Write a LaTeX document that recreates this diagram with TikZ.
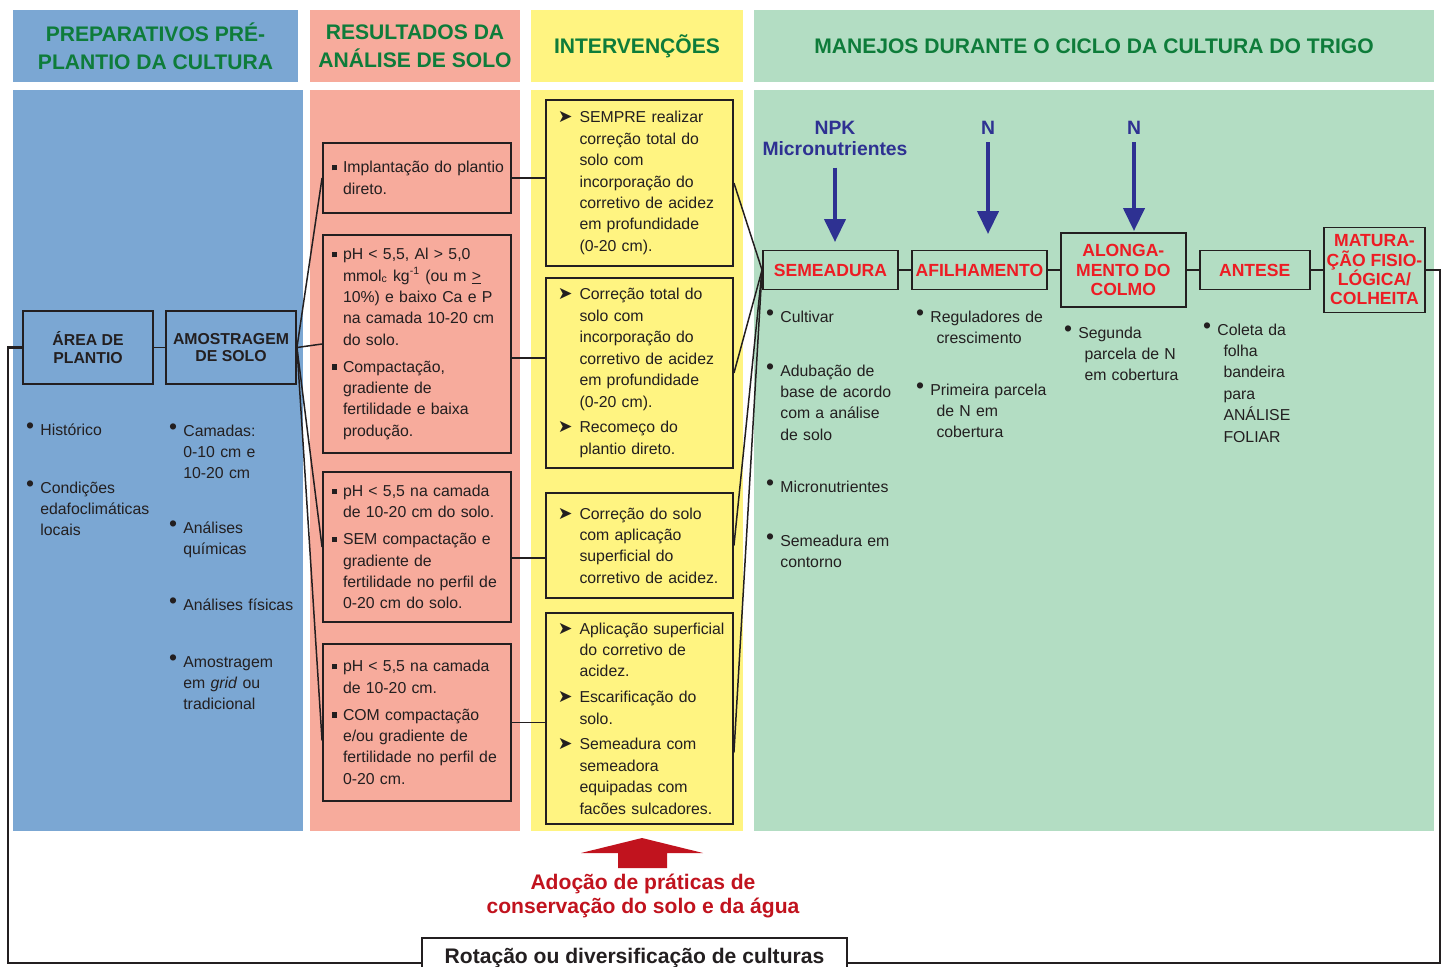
\documentclass[tikz,border=0pt]{standalone}
\usepackage{fontspec}
\setmainfont{Liberation Sans}
\newfontfamily\dejavu{DejaVu Sans}
\usetikzlibrary{arrows.meta,positioning}
\definecolor{ColBlue}{HTML}{7BA7D3}
\definecolor{ColPink}{HTML}{F7AB9C}
\definecolor{ColYellow}{HTML}{FFF481}
\definecolor{ColGreen}{HTML}{B3DDC3}
\definecolor{HeadGreen}{HTML}{0E7C3A}
\definecolor{StageRed}{HTML}{ED1C24}
\definecolor{NutriBlue}{HTML}{2E3192}
\definecolor{ArrowRed}{HTML}{C1131E}
\definecolor{InkGray}{HTML}{231F20}

\newcommand{\bul}{\makebox[0pt][r]{\raisebox{0.15ex}{\fontsize{13}{13}\selectfont\textbullet}\hspace{3.5pt}}}
\newcommand{\sqb}{\makebox[0pt][r]{\raisebox{0.3ex}{\rule{3pt}{3pt}}\hspace{3.4pt}}}
\newcommand{\arb}{\makebox[0pt][r]{{\dejavu\fontsize{10}{10}\selectfont ➤}\hspace{4pt}}}
\newcommand{\ind}{\hspace*{3.5pt}}
\newcommand{\bodyfont}{\fontsize{9}{12.2}\selectfont}

\begin{document}
\begin{tikzpicture}[
    x=0.02cm, y=-0.02cm,
    colhead/.style={minimum height=1.44cm, align=center, text=HeadGreen, font=\fontsize{12}{16}\selectfont\bfseries},
    lbox/.style={draw=InkGray, line width=1.1pt, minimum width=2.6cm, minimum height=1.46cm, align=center, text=InkGray, font=\fontsize{9}{10}\selectfont\bfseries},
    pbox/.style={draw=InkGray, line width=1.1pt, text width=3.66cm, inner xsep=0.05cm, align=left, text=InkGray, font=\bodyfont, execute at begin node={\leftskip=0.35cm}},
    ybox/.style={draw=InkGray, line width=1.1pt, text width=3.64cm, inner xsep=0.05cm, align=left, text=InkGray, font=\bodyfont, execute at begin node={\leftskip=0.62cm}},
    stage/.style={draw=InkGray, line width=1.1pt, inner xsep=0.06cm, minimum height=0.78cm, align=center, text=StageRed, font=\fontsize{10}{11}\selectfont\bfseries},
    li/.style={anchor=base west, inner sep=0pt, text width=3cm, align=left, text=InkGray, font=\bodyfont},
    joinline/.style={draw=InkGray, line width=0.85pt},
    cycleline/.style={draw=InkGray, line width=1.4pt},
    nutri/.style={text=NutriBlue, inner sep=0pt, align=center, font=\fontsize{11}{12}\selectfont\bfseries},
    nutriarrow/.style={-{Triangle[length=0.46cm, width=0.42cm]}, line width=2.3pt, color=NutriBlue}
  ]
  \useasboundingbox (0,0) rectangle (1445,967);

  % column backgrounds
  \fill[ColBlue] (13,90) rectangle (303,831);
  \fill[ColPink] (310,90) rectangle (520,831);
  \fill[ColYellow] (531,90) rectangle (743,831);
  \fill[ColGreen] (754,90) rectangle (1434,831);

  \node[colhead, fill=ColBlue, minimum width=5.7cm] (hprep) at (155.5,46) {PREPARATIVOS PRÉ-\\PLANTIO DA CULTURA};
  \node[colhead, fill=ColPink, minimum width=4.2cm] (hres) at (415,46) {RESULTADOS DA\\ANÁLISE DE SOLO};
  \node[colhead, fill=ColYellow, minimum width=4.24cm] (hint) at (637,46) {INTERVENÇÕES};
  \node[colhead, fill=ColGreen, minimum width=13.6cm] (hman) at (1094,46) {MANEJOS DURANTE O CICLO DA CULTURA DO TRIGO};

  % preparativos
  \node[lbox] (area) at (88,347.5) {ÁREA DE\\PLANTIO};
  \node[lbox] (amost) at (231,347.5) {AMOSTRAGEM\\DE SOLO};
  \draw[joinline] (area) -- (amost);

  \node[li] (hist) at (40,435) {\bul Histórico};
  \node[li] (cond) at (40,493) {\bul Condições\\edafoclimáticas\\locais};
  \node[li] (cam) at (183,436) {\bul Camadas:\\0-10 cm e\\10-20 cm};
  \node[li] (anq) at (183,533) {\bul Análises\\químicas};
  \node[li] (anf) at (183,610) {\bul Análises físicas};
  \node[li] (amg) at (183,667) {\bul Amostragem\\em \textit{grid} ou\\tradicional};

  % resultados da analise
  \node[pbox, minimum height=1.4cm] (p1) at (417,178) {\sqb Implantação do plantio\\direto.\\[4pt]};
  \node[pbox, minimum height=4.36cm] (p2) at (417,344) {\sqb pH < 5,5, Al > 5,0\\mmol\textsubscript{c} kg\textsuperscript{-1} (ou m \underline{>}\\10\%) e baixo Ca e P\\na camada 10-20 cm\\do solo.\\[3pt]\sqb Compactação,\\gradiente de\\fertilidade e baixa\\produção.};
  \node[pbox, minimum height=3.0cm] (p3) at (417,547) {\sqb pH < 5,5 na camada\\de 10-20 cm do solo.\\[3pt]\sqb SEM compactação e\\gradiente de\\fertilidade no perfil de\\0-20 cm do solo.};
  \node[pbox, minimum height=3.14cm] (p4) at (417,722.5) {\sqb pH < 5,5 na camada\\de 10-20 cm.\\[3pt]\sqb COM compactação\\e/ou gradiente de\\fertilidade no perfil de\\0-20 cm.};

  \draw[joinline] (amost.east) -- (p1.west);
  \draw[joinline] (amost.east) -- (p2.west);
  \draw[joinline] (amost.east) -- (p3.west);
  \coordinate (p4in) at ([yshift=-0.36cm]p4.west);
  \draw[joinline] (amost.east) -- (p4in);

  % intervencoes
  \node[ybox, minimum height=3.32cm] (y1) at (639.5,183) {\arb SEMPRE realizar\\correção total do\\solo com\\incorporação do\\corretivo de acidez\\em profundidade\\(0-20 cm).};
  \node[ybox, minimum height=3.8cm] (y2) at (639.5,373) {\arb Correção total do\\solo com\\incorporação do\\corretivo de acidez\\em profundidade\\(0-20 cm).\\[2.5pt]\arb Recomeço do\\plantio direto.};
  \node[ybox, minimum height=2.1cm] (y3) at (639.5,545.5) {\arb Correção do solo\\com aplicação\\superficial do\\corretivo de acidez.};
  \node[ybox, minimum height=4.22cm] (y4) at (639.5,718.5) {\arb Aplicação superficial\\do corretivo de\\acidez.\\[2.5pt]\arb Escarificação do\\solo.\\[2.5pt]\arb Semeadura com\\semeadora\\equipadas com\\facões sulcadores.};

  \coordinate (p2out) at ([yshift=-0.28cm]p2.east);
  \coordinate (p3out) at ([yshift=-0.22cm]p3.east);
  \draw[joinline] (p1.east) -- (p1.east -| y1.west);
  \draw[joinline] (p2out) -- (p2out -| y2.west);
  \draw[joinline] (p3out) -- (p3out -| y3.west);
  \draw[joinline] (p4.east) -- (p4.east -| y4.west);

  % ciclo da cultura
  \node[stage, minimum width=2.7cm] (sem) at (830.5,270) {SEMEADURA};
  \node[stage, minimum width=2.7cm, right=0.24cm of sem] (afil) {AFILHAMENTO};
  \node[stage, minimum width=2.5cm, minimum height=1.48cm, right=0.24cm of afil] (along) {ALONGA-\\MENTO DO\\COLMO};
  \node[stage, minimum width=2.2cm, right=0.24cm of along] (antese) {ANTESE};
  \node[stage, minimum width=2.02cm, minimum height=1.7cm, right=0.24cm of antese] (matur) {MATURA-\\ÇÃO FISIO-\\LÓGICA/\\COLHEITA};
  \draw[joinline] (sem) -- (afil);
  \draw[joinline] (afil) -- (along);
  \draw[joinline] (along) -- (antese);
  \draw[joinline] (antese) -- (matur);

  \coordinate (y4out) at ([yshift=-0.68cm]y4.east);
  \draw[joinline] (y1.east) -- (sem.west);
  \draw[joinline] (y2.east) -- (sem.west);
  \draw[joinline] (y3.east) -- (sem.west);
  \draw[joinline] (y4out) -- (sem.west);

  \node[nutri] (npk) at (835,138) {NPK\\Micronutrientes};
  \node[nutri] (n1) at (988,128) {N};
  \node[nutri] (n2) at (1134,128) {N};
  \draw[nutriarrow, shorten <=0.24cm, shorten >=0.15cm] (npk.south) -- (npk.south |- sem.north);
  \draw[nutriarrow, shorten <=0.14cm, shorten >=0.31cm] (n1.south) -- (n1.south |- afil.north);
  \draw[nutriarrow, shorten <=0.14cm, shorten >=0.02cm] (n2.south) -- (n2.south |- along.north);

  \node[li] (cult) at (780,322) {\bul Cultivar};
  \node[li] (adub) at (780,376) {\bul Adubação de\\base de acordo\\com a análise\\de solo};
  \node[li] (micro) at (780,492) {\bul Micronutrientes};
  \node[li] (semcont) at (780,546) {\bul Semeadura em\\contorno};
  \node[li] (regul) at (930,322) {\bul Reguladores de\\\ind crescimento};
  \node[li] (prim) at (930,395) {\bul Primeira parcela\\\ind de N em\\\ind cobertura};
  \node[li] (seg) at (1078,338) {\bul Segunda\\\ind parcela de N\\\ind em cobertura};
  \node[li] (coleta) at (1217,335) {\bul Coleta da\\\ind folha\\\ind bandeira\\\ind para\\\ind ANÁLISE\\\ind FOLIAR};

  % praticas de conservacao
  \node[text=ArrowRed, align=center, font=\fontsize{12}{13.5}\selectfont\bfseries] (adocao) at (643,896) {Adoção de práticas de\\conservação do solo e da água};
  \coordinate (conspeak) at (642,838);
  \fill[ArrowRed] (conspeak) -- ++(61,15) -- ++(-36,0) -- ++(0,15) -- ++(-49,0) -- ++(0,-15) -- ++(-37,0) -- cycle;

  % rotacao
  \node[draw=InkGray, line width=1.1pt, fill=white, anchor=north, minimum width=8.5cm, inner ysep=0.2cm, text=InkGray, font=\fontsize{12}{14}\selectfont\bfseries] (rot) at (634.5,937) {Rotação ou diversificação de culturas};
  \coordinate (loopbl) at (8,963);
  \coordinate (loopbr) at (1440,963);
  \draw[cycleline] (area.west) -| (loopbl) -- (loopbl -| rot.west);
  \draw[cycleline] (matur.east) -| (loopbr) -- (loopbr -| rot.east);
\end{tikzpicture}
\end{document}
